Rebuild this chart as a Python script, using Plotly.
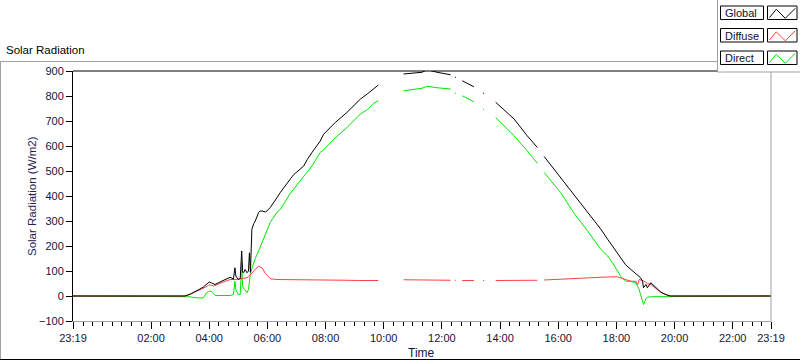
import plotly.graph_objects as go

# ---------------- data ----------------
DAY0 = "2020-01-01"
DAY1 = "2020-01-02"

times = ["23:19", "03:10", "03:21", "03:28", "03:35", "03:41", "03:48", "03:55", "03:58", "04:00",
         "04:05", "04:09", "04:12", "04:20", "04:30", "04:43", "04:50", "04:53", "04:55", "04:58",
         "05:00", "05:04", "05:07", "05:09", "05:11", "05:14", "05:18", "05:21", "05:23", "05:25",
         "05:28", "05:32", "05:35", "05:42", "05:45", "05:49", "05:56", "05:59", "06:06", "06:20",
         "06:27", "06:47", "06:54", "07:15", "07:22", "07:32", "07:49", "07:56", "08:17", "08:20",
         "08:44", "09:08", "09:12", "09:26", "09:39", "09:49", "09:50", "10:40", "10:41", "11:19",
         "11:30", "11:50", "12:18", "12:22", "12:27", "12:29", "12:31", "12:42", "13:06", "13:08",
         "13:25", "13:27", "13:29", "13:51", "14:29", "14:56", "15:17", "15:20", "15:31", "16:05",
         "16:33", "17:00", "17:28", "17:42", "17:52", "18:02", "18:09", "18:19", "18:30", "18:40",
         "18:44", "18:47", "18:50", "18:54", "18:56", "19:01", "19:04", "19:11", "19:21", "19:28",
         "19:32", "19:42", "19:51", "23:19"]

global_wm2 = [0, 0, 8, 14, 20, 28, 36, 46, 52, 56,
              52, 47, 46, 54, 62, 75, 68, 113, 80, 68,
              66, 70, 180, 95, 93, 106, 93, 100, 173, 95,
              267, 290, 300, 334, 340, 340, 336, 340, 354, 394,
              415, 467, 485, 520, 545, 574, 620, 647, 690, 694,
              734, 781, 788, 808, 830, 844, None, None, 888, 895,
              905, 895, 885, None, 876, 874, None, 861, 837, None,
              812, 810, None, 775, 708, 641, 594, None, 558, 474,
              400, 334, 267, 227, 200, 175, 155, 125, 106, 88,
              80, 76, 73, 59, 33, 46, 33, 53, 33, 19,
              15, 6, 0, 0]

diffuse_wm2 = [0, 0, 7, 13, 19, 26, 33, 38, 42, 45,
               42, 40, 42, 50, 57, 66, 64, 66, 66, 67,
               66, 66, 68, 70, 71, 72, 73, 78, 82, 86,
               92, 99, 106, 120, 116, 113, 90, 84, 69, 66,
               66, 65, 65, 64, 64, 64, 64, 64, 63, 63,
               63, 62, 62, 62, 62, 62, None, None, 65, 65,
               65, 64, 63, None, 63, 63, None, 62, 62, None,
               62, 62, None, 62, 63, 63, 63, None, 64, 68,
               70, 72, 75, 76, 77, 77, 72, 66, 59, 59,
               46, 66, 64, 63, 60, 55, 50, 46, 30, 19,
               14, 6, 0, 0]

direct_wm2 = [0, 0, -3, -6, -8, -8, -7, 14, 17, 19,
              18, 8, 2, 2, 2, 2, 6, 59, 25, 12,
              6, 6, 133, 40, 30, 25, 13, 26, 60, 90,
              110, 133, 150, 180, 195, 215, 250, 267, 295, 335,
              347, 410, 427, 475, 494, 520, 574, 585, 627, 632,
              674, 720, 728, 745, 771, 781, None, None, 821, 831,
              839, 833, 828, None, 812, 810, None, 801, 777, None,
              748, 746, None, 714, 641, 581, 531, None, 494, 414,
              330, 262, 186, 160, 133, 98, 79, 59, 59, 53,
              40, 26, 5, -21, -34, -11, -5, -3, -3, -2,
              -1, 0, 0, 0]

tick_labels = ["23:19", "02:00", "04:00", "06:00", "08:00", "10:00", "12:00",
               "14:00", "16:00", "18:00", "20:00", "22:00", "23:19"]

# time stamps: first point belongs to the previous day
x_time = [(DAY0 if i == 0 else DAY1) + " " + t for i, t in enumerate(times)]
tick_vals = [(DAY0 if i == 0 else DAY1) + " " + t for i, t in enumerate(tick_labels)]

# ---------------- figure ----------------
W, H = 800, 361
L, R, T, B = 73, 29, 71, 40
PW, PH = W - L - R, H - T - B


def px(x):
    return (x - L) / PW


def py(y):
    return (T + PH - y) / PH


FONT = "Liberation Sans"
LBL = "#14143a"

fig = go.Figure()
fig.add_trace(go.Scatter(x=x_time, y=direct_wm2, mode="lines", name="Direct",
                         line=dict(color="#00e600", width=1), connectgaps=False))
fig.add_trace(go.Scatter(x=x_time, y=diffuse_wm2, mode="lines", name="Diffuse",
                         line=dict(color="#ff4040", width=1), connectgaps=False))
fig.add_trace(go.Scatter(x=x_time, y=global_wm2, mode="lines", name="Global",
                         line=dict(color="#000000", width=1), connectgaps=False))

fig.update_layout(
    width=W, height=H,
    margin=dict(l=L, r=R, t=T, b=B),
    paper_bgcolor="white", plot_bgcolor="white",
    showlegend=False,
    font=dict(family=FONT, size=11, color=LBL),
)

fig.update_xaxes(
    type="date",
    range=[tick_vals[0], tick_vals[-1]],
    tickmode="array", tickvals=tick_vals, ticktext=tick_labels,
    ticks="outside", ticklen=7, tickcolor="#000000", tickwidth=1,
    showline=True, linecolor="#a0a0a0", linewidth=1,
    showgrid=False, zeroline=False,
    minor=dict(tickmode="linear", tick0=DAY1 + " 02:00", dtick=20 * 60 * 1000,
               ticks="outside", ticklen=4, tickcolor="#000000", showgrid=False),
    tickfont=dict(family=FONT, size=11, color=LBL),
)
fig.update_yaxes(
    range=[-100, 900], dtick=100, tick0=0,
    ticks="outside", ticklen=6, tickcolor="#000000",
    showline=True, linecolor="#000000", linewidth=1,
    showgrid=False, zeroline=False,
    tickfont=dict(family=FONT, size=11, color=LBL),
)

shapes = []
# plot frame: top black, right gray
shapes.append(dict(type="line", xref="paper", yref="paper", x0=0, x1=px(717), y0=1, y1=1,
                   line=dict(color="#000000", width=1)))
shapes.append(dict(type="line", xref="paper", yref="paper", x0=1, x1=1, y0=0, y1=py(72),
                   line=dict(color="#a0a0a0", width=1)))
# outer panel frame
shapes.append(dict(type="line", xref="paper", yref="paper", x0=px(0), x1=px(717), y0=py(61.5), y1=py(61.5),
                   line=dict(color="#a0a0a0", width=1)))
shapes.append(dict(type="line", xref="paper", yref="paper", x0=px(0.5), x1=px(0.5), y0=py(61.5), y1=py(359.5),
                   line=dict(color="#a0a0a0", width=1)))
shapes.append(dict(type="line", xref="paper", yref="paper", x0=px(0), x1=px(800), y0=py(359.5), y1=py(359.5),
                   line=dict(color="#000000", width=1)))
# legend panel
shapes.append(dict(type="rect", xref="paper", yref="paper", x0=px(717.5), x1=px(801), y0=py(-1), y1=py(72),
                   fillcolor="white", line=dict(width=0)))
shapes.append(dict(type="line", xref="paper", yref="paper", x0=px(717.5), x1=px(717.5), y0=py(0), y1=py(72),
                   line=dict(color="#a0a0a0", width=1)))
shapes.append(dict(type="line", xref="paper", yref="paper", x0=px(717.5), x1=px(800), y0=py(72), y1=py(72),
                   line=dict(color="#a0a0a0", width=1)))

legend_names = ["Global", "Diffuse", "Direct"]
legend_colors = ["#000000", "#ff4040", "#00e600"]
row_tops = [6, 28.5, 51]
annotations = []
for name, col, top in zip(legend_names, legend_colors, row_tops):
    bot = top + 13.5
    shapes.append(dict(type="rect", xref="paper", yref="paper", x0=px(720.5), x1=px(763.5),
                       y0=py(bot), y1=py(top), line=dict(color="#000000", width=1)))
    shapes.append(dict(type="rect", xref="paper", yref="paper", x0=px(767.5), x1=px(797),
                       y0=py(bot), y1=py(top), line=dict(color="#000000", width=1)))
    pts = [(769.5, top + 11.5), (776.3, top + 3.3), (785.3, top + 12.3), (795.3, top + 2.3)]
    path = "M " + " L ".join(f"{px(a):.5f},{py(b):.5f}" for a, b in pts)
    shapes.append(dict(type="path", xref="paper", yref="paper", path=path,
                       line=dict(color=col, width=1)))
    annotations.append(dict(text=name, xref="paper", yref="paper", x=px(722.5), y=py(top + 7),
                            xanchor="left", yanchor="middle", showarrow=False,
                            font=dict(family=FONT, size=11, color="#10102a")))

annotations.append(dict(text="Solar Radiation", xref="paper", yref="paper", x=px(4), y=py(50),
                        xanchor="left", yanchor="middle", showarrow=False,
                        font=dict(family=FONT, size=11.5, color="#000000")))
annotations.append(dict(text="Solar Radiation (W/m2)", xref="paper", yref="paper", x=px(32), y=py(196),
                        xanchor="center", yanchor="middle", textangle=-90, showarrow=False,
                        font=dict(family=FONT, size=11.5, color="#2a2050")))
annotations.append(dict(text="Time", xref="paper", yref="paper", x=px(421), y=py(353),
                        xanchor="center", yanchor="middle", showarrow=False,
                        font=dict(family=FONT, size=12, color=LBL)))

fig.update_layout(shapes=shapes, annotations=annotations)

# remove the page's default body margin so the figure sits at the window's top-left
fig.write_html("out.html",
               config={"displayModeBar": False},
               post_script="document.body.style.margin='0';document.body.style.overflow='hidden';")
